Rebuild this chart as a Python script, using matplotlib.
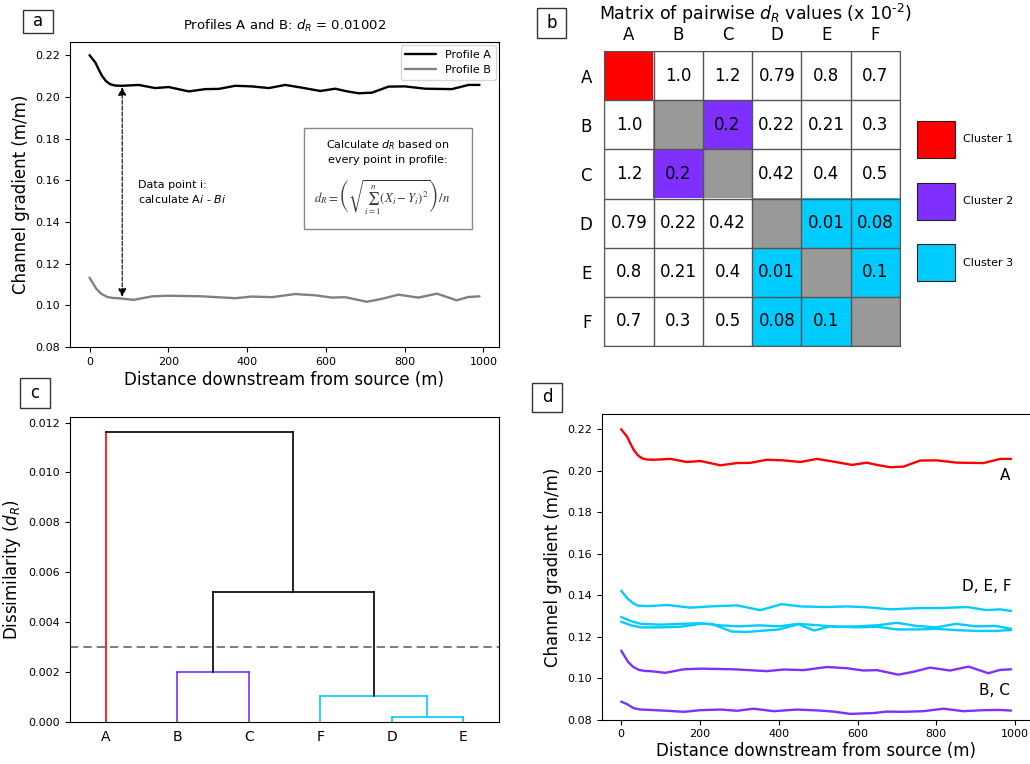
import numpy as np
import matplotlib
matplotlib.use("Agg")
import matplotlib.pyplot as plt
from matplotlib.patches import Rectangle
from matplotlib.colors import ListedColormap

# ---------------- data ----------------
xA = [0, 15, 25, 32, 42, 53, 65, 83, 125, 167, 201, 252, 294, 328, 370, 412, 455, 497, 539, 586, 624, 649, 683, 717, 759, 801, 852, 920, 962, 990]
yA = [0.2200, 0.2164, 0.2125, 0.2100, 0.2075, 0.2060, 0.2054, 0.2053, 0.2057, 0.2042, 0.2047, 0.2026, 0.2037, 0.2038,
      0.2053, 0.2050, 0.2042, 0.2057, 0.2044, 0.2028, 0.2039, 0.2028, 0.2017, 0.2020, 0.2049, 0.2050, 0.2039, 0.2037,
      0.2057, 0.2057]

xB = [0, 17, 30, 45, 60, 74, 112, 159, 201, 286, 370, 412, 463, 522, 573, 615, 649, 704, 742, 784, 835, 882, 932, 962, 990]
yB = [0.1133, 0.1080, 0.1055, 0.1040, 0.1035, 0.1034, 0.1026, 0.1043, 0.1046, 0.1043, 0.1034, 0.1042, 0.1039, 0.1054,
      0.1048, 0.1037, 0.1039, 0.1017, 0.1031, 0.1051, 0.1037, 0.1056, 0.1024, 0.1040, 0.1043]

xC = [0, 15, 32, 50, 74, 117, 159, 201, 252, 294, 336, 387, 446, 505, 539, 582, 641, 674, 717, 767, 818, 869, 920, 962, 990]
yC = [0.0887, 0.0875, 0.0855, 0.0849, 0.0847, 0.0843, 0.0838, 0.0846, 0.0849, 0.0843, 0.0853, 0.0841, 0.0849, 0.0844,
      0.0839, 0.0828, 0.0832, 0.0839, 0.0838, 0.0841, 0.0853, 0.0841, 0.0846, 0.0847, 0.0844]

xD = [0, 25, 50, 100, 150, 200, 250, 300, 350, 400, 450, 500, 550, 600, 650, 700, 750, 800, 850, 900, 950, 990]
yD = [0.1295, 0.1275, 0.1262, 0.1258, 0.1262, 0.1265, 0.1255, 0.1250, 0.1255, 0.1250, 0.1262, 0.1255, 0.1248, 0.1250,
      0.1255, 0.1267, 0.1252, 0.1245, 0.1262, 0.1250, 0.1252, 0.1238]

xE = [0, 25, 50, 100, 150, 200, 230, 280, 320, 400, 450, 490, 530, 600, 650, 700, 750, 800, 850, 900, 950, 990]
yE = [0.1272, 0.1255, 0.1245, 0.1245, 0.1248, 0.1262, 0.1262, 0.1225, 0.1223, 0.1235, 0.1260, 0.1230, 0.1250, 0.1245,
      0.1248, 0.1235, 0.1235, 0.1238, 0.1232, 0.1228, 0.1228, 0.1232]

xF = [0, 17, 30, 42, 60, 74, 117, 176, 235, 294, 353, 408, 455, 522, 573, 624, 683, 759, 810, 878, 928, 962, 990]
yF = [0.1422, 0.1382, 0.1362, 0.1350, 0.1348, 0.1348, 0.1353, 0.1340, 0.1347, 0.1351, 0.1328, 0.1357, 0.1346, 0.1343,
      0.1346, 0.1342, 0.1332, 0.1338, 0.1338, 0.1343, 0.1328, 0.1332, 0.1324]

labels = ["A", "B", "C", "D", "E", "F"]
pairwise = [
    ["",     "1.0",  "1.2",  "0.79", "0.8",  "0.7"],
    ["1.0",  "",     "0.2",  "0.22", "0.21", "0.3"],
    ["1.2",  "0.2",  "",     "0.42", "0.4",  "0.5"],
    ["0.79", "0.22", "0.42", "",     "0.01", "0.08"],
    ["0.8",  "0.21", "0.4",  "0.01", "",     "0.1"],
    ["0.7",  "0.3",  "0.5",  "0.08", "0.1",  ""],
]
cluster_of = {"A": 1, "B": 2, "C": 2, "D": 3, "E": 3, "F": 3}
cluster_names = ["Cluster 1", "Cluster 2", "Cluster 3"]

leaf_order = ["A", "B", "C", "F", "D", "E"]
merges = [("D", "E", 0.0002), ("F", "DE", 0.00103), ("B", "C", 0.002),
          ("BC", "FDE", 0.00519), ("A", "BCFDE", 0.01163)]
cut_height = 0.003

RED, PURPLE, CYAN, GRAY = "#ff0000", "#7f2fff", "#00ccff", "#999999"
cluster_colors = {1: RED, 2: PURPLE, 3: CYAN}

W, H = 1030, 764
fig = plt.figure(figsize=(W / 100, H / 100), dpi=100)


def fbox(x0, y0, x1, y1):
    return [x0 / W, 1 - y1 / H, (x1 - x0) / W, (y1 - y0) / H]


LINE = dict(lw=1.7, solid_joinstyle="round", solid_capstyle="round")

# panel label boxes
for lab, (x0, y0, x1, y1) in {"a": (23, 10, 53, 33), "b": (537, 8, 566, 38),
                               "c": (20, 378, 50, 408), "d": (532, 383, 562, 412)}.items():
    fig.add_artist(Rectangle((x0 / W, 1 - y1 / H), (x1 - x0) / W, (y1 - y0) / H,
                             transform=fig.transFigure, fill=False, edgecolor="#333333", lw=1))
    fig.text((x0 + x1) / 2 / W, 1 - (y0 + y1) / 2 / H, lab, ha="center", va="center", fontsize=12)

# ---------------- panel a ----------------
axa = fig.add_axes(fbox(70, 42, 499, 347))
axa.plot(xA, yA, color="black", label="Profile A", **LINE)
axa.plot(xB, yB, color="#808080", label="Profile B", **LINE)
axa.set_ylim(0.08, 0.2263)
axa.set_yticks(np.arange(0.08, 0.2201, 0.02))
axa.set_xticks(np.arange(0, 1001, 200))
axa.tick_params(labelsize=8)
axa.set_xlabel("Distance downstream from source (m)", fontsize=12, labelpad=3)
axa.set_ylabel("Channel gradient (m/m)", fontsize=12)
axa.set_title(r"Profiles A and B: $d_R$ = 0.01002", fontsize=9.5, pad=9)
axa.legend(loc="upper right", fontsize=8, handlelength=2.8, borderaxespad=0.3)
i_pt = 7
axa.annotate("", xy=(xA[i_pt], yB[5]), xytext=(xA[i_pt], yA[i_pt]),
             arrowprops=dict(arrowstyle="<|-|>", linestyle="--", color="black", lw=0.8,
                             mutation_scale=12, shrinkA=1, shrinkB=1))
axa.text(0.158, 0.507, "Data point i:\ncalculate A$i$ - $Bi$", transform=axa.transAxes,
         fontsize=8, va="center", ha="left", linespacing=1.3)
axa.add_patch(Rectangle((0.546, 0.388), 0.39, 0.329, transform=axa.transAxes, fill=False,
                        edgecolor="#888888", lw=1))
axa.text(0.741, 0.64, "Calculate $d_R$ based on\nevery point in profile:", transform=axa.transAxes,
         fontsize=8, ha="center", va="center", linespacing=1.3)
axa.text(0.728, 0.49, r"$d_R = \left(\sqrt{\sum_{i=1}^{n}(X_i - Y_i)^2}\right)/n$", transform=axa.transAxes,
         fontsize=9.2, ha="center", va="center", math_fontfamily="stix", color="#333333")

# ---------------- panel b ----------------
axb = fig.add_axes(fbox(604.3, 51, 900, 346))
n = len(labels)
code = np.zeros((n, n), dtype=int)
for i, ri in enumerate(labels):
    for j, cj in enumerate(labels):
        same = cluster_of[ri] == cluster_of[cj]
        size = sum(1 for v in cluster_of.values() if v == cluster_of[ri])
        if i == j:
            code[i, j] = cluster_of[ri] if size == 1 else 4
        elif same:
            code[i, j] = cluster_of[ri]
        else:
            code[i, j] = 0
cmap = ListedColormap(["white", RED, PURPLE, CYAN, GRAY])
axb.imshow(code, cmap=cmap, vmin=-0.5, vmax=4.5, aspect="auto")
for i in range(n):
    for j in range(n):
        if pairwise[i][j]:
            axb.text(j, i, pairwise[i][j], ha="center", va="center", fontsize=12)
axb.set_xticks(range(n), labels)
axb.set_yticks(range(n), labels)
axb.set_xticks(np.arange(-0.5, n, 1), minor=True)
axb.set_yticks(np.arange(-0.5, n, 1), minor=True)
axb.grid(which="minor", color="#555555", lw=1)
axb.tick_params(which="both", length=0)
axb.tick_params(axis="x", top=True, bottom=False, labeltop=True, labelbottom=False, labelsize=12, pad=5)
axb.tick_params(axis="y", labelsize=12, pad=9)
for s in axb.spines.values():
    s.set_color("#555555")
fig.text(755 / W, 1 - 14 / H, r"Matrix of pairwise $d_R$ values (x 10$^{\text{-2}}$)",
         ha="center", va="center", fontsize=12.5)

# legend for clusters
for k, (top, name) in enumerate(zip([121, 183, 244], cluster_names)):
    fig.add_artist(Rectangle((917 / W, 1 - (top + 37) / H), 38 / W, 37 / H, transform=fig.transFigure,
                             facecolor=cluster_colors[k + 1], edgecolor="#222222", lw=0.8))
    fig.text(963 / W, 1 - (top + 18.5) / H, name, ha="left", va="center", fontsize=8)

# ---------------- panel c (dendrogram) ----------------
axc = fig.add_axes(fbox(70, 417.3, 499, 721.7))
pos = {lab: 5 + 10 * i for i, lab in enumerate(leaf_order)}
hgt = {lab: 0.0 for lab in leaf_order}
for left, right, h in merges:
    xl, xr = pos[left], pos[right]
    hl, hr = hgt[left], hgt[right]
    if h < cut_height:
        c = cluster_colors[cluster_of[left[0]]]
        cl = cr = cbar = c
    else:
        cbar = "black"
        cl = cluster_colors[cluster_of[left]] if left in cluster_of else "black"
        cr = cluster_colors[cluster_of[right]] if right in cluster_of else "black"
    axc.plot([xl, xl], [hl, h], color=cl, lw=1.2)
    axc.plot([xr, xr], [hr, h], color=cr, lw=1.2)
    axc.plot([xl, xr], [h, h], color=cbar, lw=1.2)
    pos[left + right] = (xl + xr) / 2
    hgt[left + right] = h
axc.axhline(cut_height, color="#666666", ls="--", lw=1.2, dashes=(5, 3))
max_h = max(m[2] for m in merges)
axc.set_xlim(0, 10 * len(leaf_order))
axc.set_ylim(0, max_h * 1.05)
axc.set_xticks([pos[l] for l in leaf_order], leaf_order)
axc.set_yticks(np.arange(0, 0.0121, 0.002))
axc.yaxis.set_major_formatter(matplotlib.ticker.FormatStrFormatter("%.3f"))
axc.tick_params(axis="x", length=0, labelsize=10, pad=6)
axc.tick_params(axis="y", labelsize=8)
axc.set_ylabel("Dissimilarity ($d_R$)", fontsize=12)

# ---------------- panel d ----------------
axd = fig.add_axes(fbox(601.7, 414.3, 1030.6, 719.7))
axd.plot(xA, yA, color=RED, **LINE)
for xs, ys in [(xB, yB), (xC, yC)]:
    axd.plot(xs, ys, color=PURPLE, **LINE)
for xs, ys in [(xD, yD), (xE, yE), (xF, yF)]:
    axd.plot(xs, ys, color=CYAN, **LINE)
axd.set_ylim(0.08, 0.2272)
axd.set_yticks(np.arange(0.08, 0.2201, 0.02))
axd.set_xticks(np.arange(0, 1001, 200))
axd.tick_params(labelsize=8)
axd.set_xlabel("Distance downstream from source (m)", fontsize=12, labelpad=2)
axd.set_ylabel("Channel gradient (m/m)", fontsize=12)
axd.text(975, 0.1975, "A", ha="center", va="center", fontsize=11)
axd.text(992, 0.1440, "D, E, F", ha="right", va="center", fontsize=11)
axd.text(987, 0.0940, "B, C", ha="right", va="center", fontsize=11)

fig.savefig("out.png", dpi=100)
